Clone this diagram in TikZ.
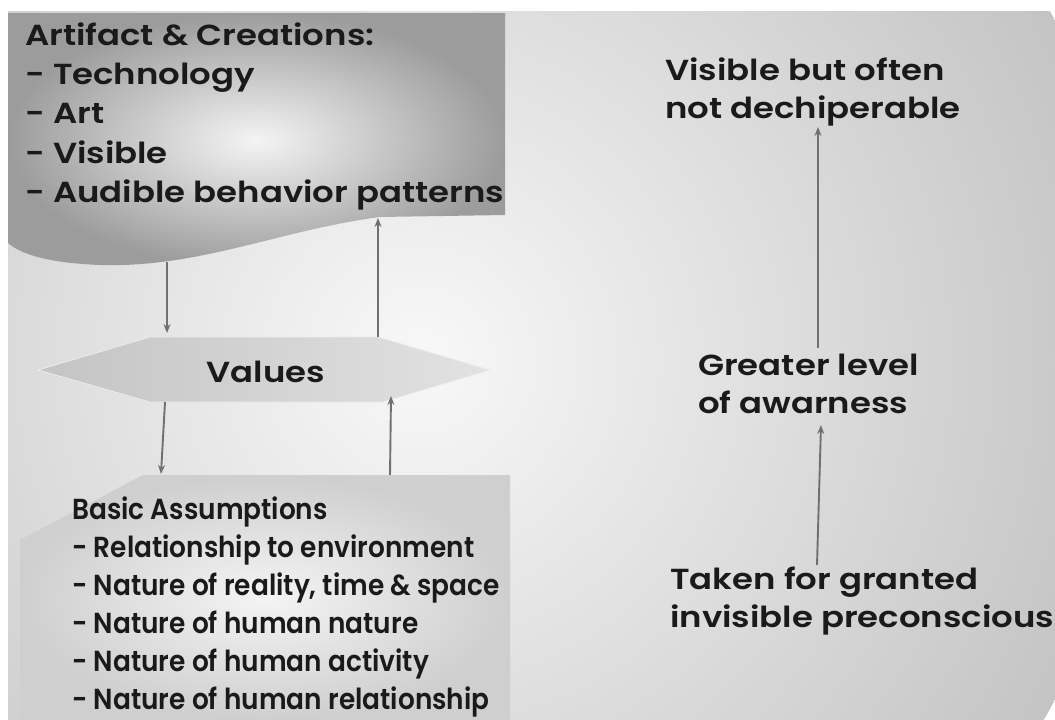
\documentclass[tikz,border=0pt]{standalone}
\usepackage{fontspec}
\setmainfont{Poppins}
\newfontfamily\wideface{Poppins SemiBold}[FakeStretch=1.17]
\newfontfamily\narrowface{Poppins SemiBold}[FakeStretch=0.91]
\usetikzlibrary{arrows.meta}

\definecolor{bgin}{HTML}{F8F8F8}
\definecolor{bgout}{HTML}{C4C4C4}
\definecolor{topin}{HTML}{F4F4F4}
\definecolor{topout}{HTML}{9C9C9C}
\definecolor{valleft}{HTML}{C4C4C4}
\definecolor{valright}{HTML}{E2E2E2}
\definecolor{basein}{HTML}{F4F4F4}
\definecolor{baseout}{HTML}{CFCFCF}
\definecolor{arrowgray}{HTML}{707070}
\definecolor{ink}{HTML}{1A1A1A}

\begin{document}
\begin{tikzpicture}[x=1pt,y=-1pt,
  lbl/.style={anchor=base west, inner sep=0pt, text=ink,
              font=\fontsize{29}{34}\wideface},
  narrowlbl/.style={lbl, font=\fontsize{29}{34}\narrowface},
  flow/.style={draw=arrowgray, line width=1.9pt,
               -{Stealth[length=9pt,width=7pt]}}]

\useasboundingbox (0,0) rectangle (1055,720);
\fill[white] (0,0) rectangle (1055,720);

% soft grey backdrop
\begin{scope}
  \clip (8,11) rectangle (1055,720);
  \shade[inner color=bgin, outer color=bgout] (420,360) circle (720);
\end{scope}

% artifacts panel with wavy lower edge
\shade[inner color=topin, outer color=topout]
  (8,13) -- (505,13) -- (505,215) -- (380,217)
  .. controls (280,230) and (200,268) .. (100,265)
  .. controls (50,263) and (22,255) .. (8,243) -- cycle;

% values banner
\shade[left color=valleft, right color=valright, draw=white!85!gray, line width=0.8pt]
  (38,370) -- (150,337) -- (378,337) -- (490,370) -- (383,402) -- (150,402) -- cycle;

% basic assumptions panel
\shade[inner color=basein, outer color=baseout]
  (143,475) -- (510,475) -- (510,720) -- (20,720) -- (20,540) -- cycle;

% texts
\node[lbl] (art0) at (25,45)  {Artifact \& Creations:};
\node[lbl] (art1) at (25,84)  {- Technology};
\node[lbl] (art2) at (25,123) {- Art};
\node[lbl] (art3) at (25,163) {- Visible};
\node[lbl] (art4) at (25,202) {- Audible behavior patterns};

\node[lbl, anchor=base] (values) at (266,382) {Values};

\node[narrowlbl] (bas0) at (72,519) {Basic Assumptions};
\node[narrowlbl] (bas1) at (72,557) {- Relationship to environment};
\node[narrowlbl] (bas2) at (72,595) {- Nature of reality, time \& space};
\node[narrowlbl] (bas3) at (72,633) {- Nature of human nature};
\node[narrowlbl] (bas4) at (72,671) {- Nature of human activity};
\node[narrowlbl] (bas5) at (72,709) {- Nature of human relationship};

\node[lbl] (vis0) at (665,80)  {Visible but often};
\node[lbl] (vis1) at (665,118) {not dechiperable};
\node[lbl] (gre0) at (698,375) {Greater level};
\node[lbl] (gre1) at (698,413) {of awarness};
\node[lbl] (tak0) at (670,589) {Taken for granted};
\node[lbl] (tak1) at (670,627) {invisible preconscious};

% connector end points
\coordinate (artOut)  at (167,262);
\coordinate (valIn)   at (167,333);
\coordinate (valOut)  at (378,337);
\coordinate (artIn)   at (378,218);
\coordinate (valDown) at (165,402);
\coordinate (basIn)   at (161,474);
\coordinate (basOut)  at (390,475);
\coordinate (valUp)   at (391,396);
\coordinate (greTop)  at (818,348);
\coordinate (visIn)   at (818,127);
\coordinate (takTop)  at (817,565);
\coordinate (greIn)   at (821,425);

\draw[flow] (artOut) -- (valIn);
\draw[flow] (valOut) -- (artIn);
\draw[flow] (valDown) -- (basIn);
\draw[flow] (basOut) -- (valUp);
\draw[flow] (greTop) -- (visIn);
\draw[flow] (takTop) -- (greIn);
\end{tikzpicture}
\end{document}
